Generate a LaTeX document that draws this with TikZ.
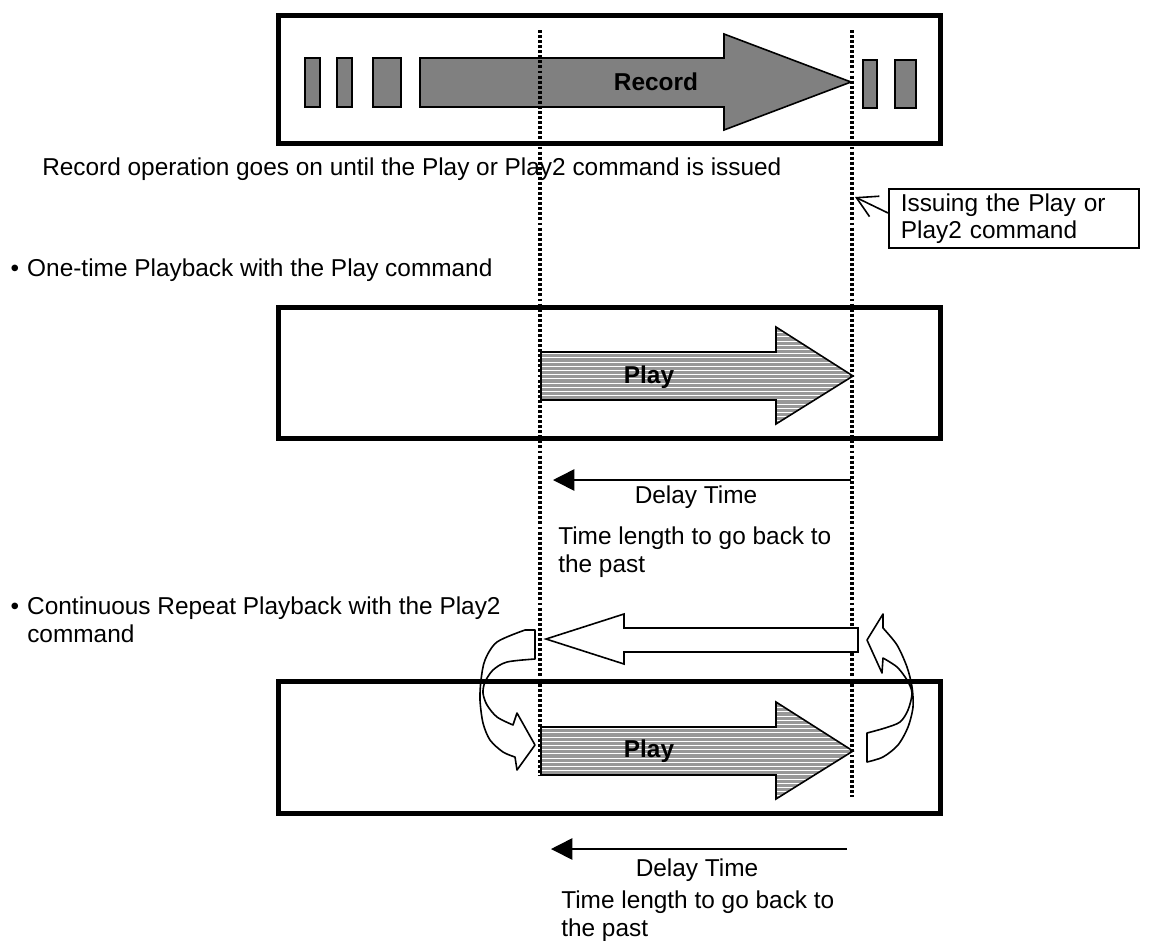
\documentclass[tikz,border=0pt]{standalone}
\usepackage{fontspec}
\setmainfont{Liberation Sans}
\usetikzlibrary{arrows.meta}
\definecolor{recgray}{HTML}{808080}
\definecolor{playgray}{HTML}{999999}
\begin{document}
\begin{tikzpicture}[x=0.75pt,y=-0.75pt,
  frame/.style={line width=3.75pt},
  thin/.style={line width=1.2pt, line join=miter},
  blk/.style={thin, fill=recgray},
  vdots/.style={line width=2.6pt, dash pattern=on 2.2pt off 1.6pt},
  txt/.style={font=\fontsize{18.3pt}{20.3pt}\selectfont, inner sep=0pt, anchor=base west, align=left},
  btxt/.style={font=\fontsize{18.3pt}{20.3pt}\selectfont\bfseries, inner sep=0pt, anchor=base},
  delay/.style={thin, -{Triangle[length=16pt,width=16pt]}},
  curv/.style={thin, line join=round}]
\useasboundingbox (0,0) rectangle (1157,940);

% ---------- top: record ----------
\draw[frame] (278,15) rectangle (940,143);
\draw[blk] (305,58) rectangle (320,107);
\draw[blk] (337,58) rectangle (352,107);
\draw[blk] (373,58) rectangle (401,107);
\draw[blk] (863,60) rectangle (877,108);
\draw[blk] (895,60) rectangle (916,108);
\draw[blk] (420,58) -- (724,58) -- (724,34) -- (851,82) -- (724,130) -- (724,107) -- (420,107) -- cycle;
\node[btxt] (rec) at (656,90) {Record};

\node[txt] (rectxt) at (42,175) {Record operation goes on until the Play or Play2 command is issued};

% ---------- middle / bottom frames ----------
\draw[frame] (278,307) rectangle (940,438);
\draw[frame] (278,681) rectangle (940,813);

% ---------- hatched play arrows ----------
\foreach \o in {0,375}{
  \begin{scope}
    \clip (541,352+\o) -- (776,352+\o) -- (776,327+\o) -- (853,376+\o) -- (776,424+\o) -- (776,400+\o) -- (541,400+\o) -- cycle;
    \fill[playgray] (530,320+\o) rectangle (860,430+\o);
    \foreach \k in {0,...,25}{
      \draw[white, line width=0.8pt] (530,328.5+\o+4.2*\k) -- (860,328.5+\o+4.2*\k);
    }
  \end{scope}
  \draw[thin] (541,352+\o) -- (776,352+\o) -- (776,327+\o) -- (853,376+\o) -- (776,424+\o) -- (776,400+\o) -- (541,400+\o) -- cycle;
}
\node[btxt] (play1) at (649,383) {Play};
\node[btxt] (play2) at (649,757) {Play};

% ---------- dotted guide lines ----------
\draw[vdots] (540,30) -- (540,776);
\draw[vdots] (852,30) -- (852,797);

% ---------- callout ----------
\node[draw, thin, anchor=north west, inner xsep=9pt, inner ysep=0pt,
      minimum height=44.25pt, text width=169.5pt,
      font=\fontsize{18.3pt}{20.3pt}\selectfont, align=left] (call) at (888,188)
  {Issuing the Play or\\Play2 command};
\coordinate (ctip) at (855,197);
\draw[thin, -{Straight Barb[length=15pt,width=17pt]}] ([yshift=4pt]call.west) -- (ctip);

% ---------- one-time playback ----------
\node[txt] (b1) at (27,276) {\llap{\textbullet\hspace{6pt}}One-time Playback with the Play command};
\coordinate (d1s) at (851,480);
\coordinate (d1e) at (553,480);
\draw[delay] (d1s) -- (d1e);
\node[txt, anchor=base] (dt1) at (696,503) {Delay Time};
\node[txt] (tl1) at (558,572) {Time length to go back to\\the past};

% ---------- continuous repeat ----------
\node[txt] (b2) at (27,642) {\llap{\textbullet\hspace{6pt}}Continuous Repeat Playback with the Play2\\command};

% hollow return arrow
\draw[thin, fill=white] (858,628) -- (624,628) -- (624,614) -- (546,639) -- (624,664) -- (624,652) -- (858,652) -- cycle;

% left curved arrow
\draw[curv] (525,630) -- (535,630) -- (535,659)
  -- plot[smooth] coordinates {(535,659) (507,662) (493,670) (485,682) (483,693) (487,705) (497,717) (513,725)}
  -- (517,713) -- (535,745) -- (517,770)
  -- plot[smooth] coordinates {(515,757) (503,752) (490,740) (483,723) (480,700) (481,680) (485,660) (497,642) (525,630)}
  -- cycle;

% right curved arrow
\draw[curv] (883,614) -- (867,640) -- (882,673)
  -- plot[smooth] coordinates {(883,658) (897,667) (907,680) (912,693) (908,710) (900,722) (885,728) (867,733)}
  -- (867,762)
  -- plot[smooth] coordinates {(867,762) (883,757) (898,745) (908,727) (913,707) (912,687) (907,667) (897,645) (883,628)}
  -- cycle;

\coordinate (d2s) at (847,849);
\coordinate (d2e) at (551,849);
\draw[delay] (d2s) -- (d2e);
\node[txt, anchor=base] (dt2) at (697,876) {Delay Time};
\node[txt] (tl2) at (561,936) {Time length to go back to\\the past};
\end{tikzpicture}
\end{document}
